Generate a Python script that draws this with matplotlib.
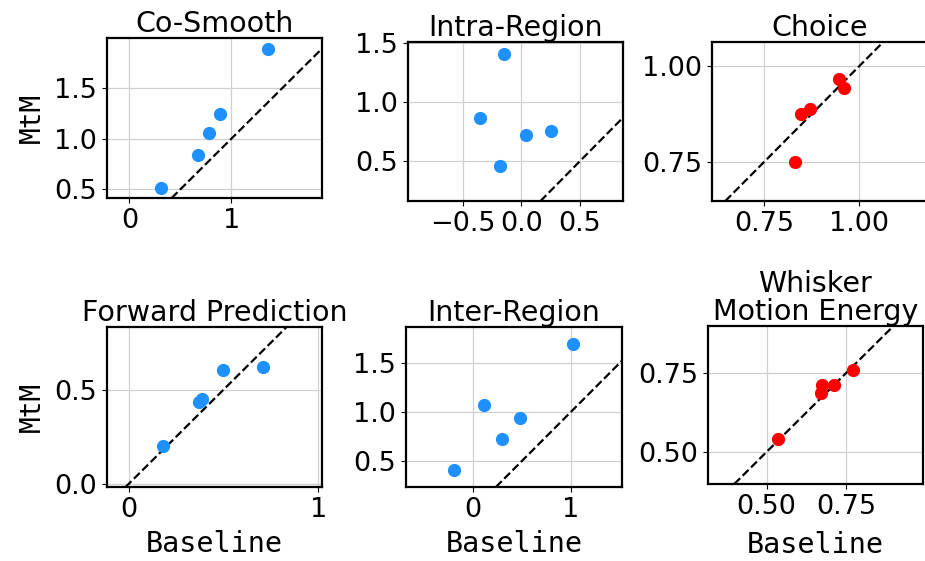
import matplotlib
matplotlib.use("Agg")
import matplotlib.pyplot as plt

# values (baseline vs MtM)
cosmooth_base = [0.31, 0.67, 0.78, 0.89, 1.36]
cosmooth_mtm = [0.51, 0.84, 1.06, 1.24, 1.89]

intra_base = [-0.35, -0.18, -0.15, 0.04, 0.25]
intra_mtm = [0.87, 0.46, 1.41, 0.72, 0.76]

choice_base = [0.832, 0.847, 0.870, 0.947, 0.959]
choice_mtm = [0.749, 0.876, 0.888, 0.966, 0.943]

fp_base = [0.18, 0.37, 0.385, 0.495, 0.71]
fp_mtm = [0.20, 0.436, 0.449, 0.605, 0.619]

inter_base = [-0.19, 0.11, 0.30, 0.48, 1.02]
inter_mtm = [0.41, 1.07, 0.72, 0.94, 1.69]

whisker_base = [0.535, 0.671, 0.673, 0.713, 0.771]
whisker_mtm = [0.542, 0.688, 0.712, 0.713, 0.760]

titles = ["Co-Smooth", "Intra-Region", "Choice",
          "Forward Prediction", "Inter-Region", "Whisker\nMotion Energy"]
xs = [cosmooth_base, intra_base, choice_base, fp_base, inter_base, whisker_base]
ys = [cosmooth_mtm, intra_mtm, choice_mtm, fp_mtm, inter_mtm, whisker_mtm]
colors = ["#1E90FF", "#1E90FF", "red", "#1E90FF", "#1E90FF", "red"]

xlims = [(-0.22, 1.89), (-0.97, 0.87), (0.613, 1.18), (-0.116, 1.02), (-0.68, 1.52), (0.315, 0.993)]
ylims = [(0.414, 1.995), (0.164, 1.51), (0.648, 1.0625), (-0.018, 0.833), (0.236, 1.863), (0.398, 0.90)]
xticks = [[0, 1], [-0.5, 0.0, 0.5], [0.75, 1.00], [0, 1], [0, 1], [0.50, 0.75]]
yticks = [[0.5, 1.0, 1.5], [0.5, 1.0, 1.5], [0.75, 1.00], [0.0, 0.5], [0.5, 1.0, 1.5], [0.50, 0.75]]

# axes boxes in figure fractions (left, bottom, width, height)
# the Choice panel runs slightly past the right edge, as in the reference
boxes = [
    [0.1157, 0.647, 0.2324, 0.2852],
    [0.4411, 0.6417, 0.2324, 0.2834],
    [0.7697, 0.6417, 0.2335, 0.2834],
    [0.1157, 0.1319, 0.2324, 0.2852],
    [0.4389, 0.1319, 0.2335, 0.2852],
    [0.7654, 0.1373, 0.2324, 0.2816],
]

fig = plt.figure(figsize=(9.25, 5.61), dpi=100)

for i in range(6):
    ax = fig.add_axes(boxes[i])
    ax.grid(True, color="#d0d0d0", linewidth=0.9)
    ax.set_axisbelow(True)
    ax.scatter(xs[i], ys[i], color=colors[i], s=72, zorder=3)
    ax.axline((0, 0), slope=1, color="black", linestyle="--", linewidth=1.6, zorder=2)
    ax.set_xlim(xlims[i])
    ax.set_ylim(ylims[i])
    ax.set_xticks(xticks[i])
    ax.set_yticks(yticks[i])
    ax.tick_params(labelsize=19.5)
    for sp in ax.spines.values():
        sp.set_linewidth(1.6)
    ax.set_title(titles[i], fontsize=20.5, pad=4, linespacing=1.0)
    if i % 3 == 0:
        ax.set_ylabel("MtM", fontsize=20, family="DejaVu Sans Mono", labelpad=6)
    if i >= 3:
        pad = 8 if i == 5 else 5
        ax.set_xlabel("Baseline", fontsize=20.5, family="DejaVu Sans Mono", labelpad=pad)

fig.savefig("out.png", dpi=100)
